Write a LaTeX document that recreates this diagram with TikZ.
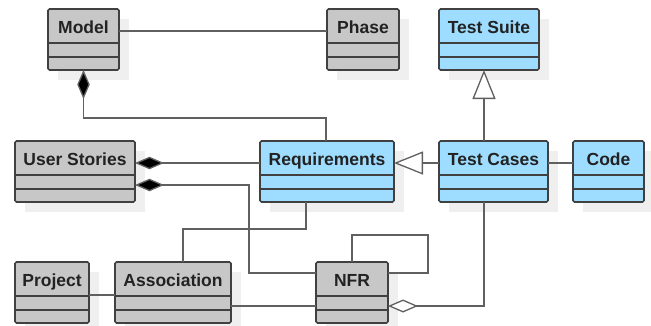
\documentclass[tikz,border=0pt]{standalone}
\usepackage{fontspec}
\setmainfont{Liberation Sans}
\usetikzlibrary{calc,arrows.meta}

\definecolor{clsgrey}{RGB}{199,199,199}
\definecolor{clsblue}{RGB}{158,221,255}
\definecolor{clsborder}{RGB}{64,64,64}
\definecolor{clsshadow}{RGB}{239,239,239}
\definecolor{linkgrey}{RGB}{96,96,96}
\definecolor{txtdark}{RGB}{34,34,34}

\tikzset{
  clsbox/.style={draw=clsborder, line width=1.6pt, rounded corners=1.5pt,
    minimum height=61pt, inner sep=0pt, outer sep=0pt},
  link/.style={draw=linkgrey, line width=1.3pt},
  clstitle/.style={font=\bfseries\fontsize{17.5}{20}\selectfont, text=txtdark, inner sep=0pt, anchor=base},
  composed/.style={{Diamond[length=29pt,width=12.5pt,fill=black]}-},
  aggregated/.style={-{Diamond[length=30pt,width=13pt,open,fill=white]}},
  inherits/.style={-{Triangle[length=29pt,width=23pt,open,fill=white]}},
}

% class box: name, centre x, centre y, width, fill, title
\newcommand{\umlclass}[6]{%
  \fill[clsshadow] (#2-#4/2+10, #3-30.5+10) rectangle (#2+#4/2+10, #3+30.5+10);
  \node[clsbox, fill=#5, minimum width=#4pt] (#1) at (#2,#3) {};
  \node[clstitle] at ($(#1.north)+(0,24)$) {#6};
  \draw[clsborder, line width=1.6pt] ($(#1.north west)+(0,34)$) -- ($(#1.north east)+(0,34)$);
  \draw[clsborder, line width=1.6pt] ($(#1.north west)+(0,48)$) -- ($(#1.north east)+(0,48)$);
}

\begin{document}
\begin{tikzpicture}[x=1pt,y=-1pt]
  \useasboundingbox[fill=white] (0,0) rectangle (651,325);

  \umlclass{model}{83.5}{39.5}{71}{clsgrey}{Model}
  \umlclass{phase}{363}{39.5}{72}{clsgrey}{Phase}
  \umlclass{tsuite}{489}{39.5}{100}{clsblue}{Test Suite}
  \umlclass{ustories}{75}{171.5}{120}{clsgrey}{User Stories}
  \umlclass{req}{327}{171.5}{134}{clsblue}{Requirements}
  \umlclass{tcases}{493.5}{171.5}{109}{clsblue}{Test Cases}
  \umlclass{code}{608.5}{171.5}{71}{clsblue}{Code}
  \umlclass{project}{52}{292.5}{74}{clsgrey}{Project}
  \umlclass{assoc}{173}{292.5}{116}{clsgrey}{Association}
  \umlclass{nfr}{352}{292.5}{72}{clsgrey}{NFR}

  % plain associations
  \draw[link] ($(model.north east)+(0,22)$) -- ($(phase.north west)+(0,22)$);
  \draw[link] ($(tcases.north east)+(0,22)$) -- ($(code.north west)+(0,22)$);
  \draw[link] ($(project.north east)+(0,33)$) -- ($(assoc.north west)+(0,33)$);
  \draw[link] ($(assoc.north east)+(0,44)$) -- ($(nfr.north west)+(0,44)$);
  \draw[link] ($(req.south)+(-21,0)$) |- ($(assoc.north)+(10,-33)$) -- ($(assoc.north)+(10,0)$);
  \draw[link] (nfr.north) -- ++(0,-27) -| ($(nfr.north east)+(40,11)$) -- ($(nfr.north east)+(0,11)$);

  % compositions
  \draw[link, composed] (model.south) |- ($(req.north)+(-1,-23)$) -- ($(req.north)+(-1,0)$);
  \draw[link, composed] ($(ustories.north east)+(0,22)$) -- ($(req.north west)+(0,22)$);
  \draw[link, composed] ($(ustories.north east)+(0,44)$) -| ($(nfr.north west)+(-67,11)$) -- ($(nfr.north west)+(0,11)$);

  % aggregation
  \draw[link, aggregated] ($(tcases.south west)+(45,0)$) |- ($(nfr.north east)+(0,44)$);

  % generalisations
  \draw[link, inherits] ($(tcases.north west)+(45,0)$) -- ($(tsuite.south west)+(45,0)$);
  \draw[link, inherits] ($(tcases.north west)+(0,22)$) -- ($(req.north east)+(0,22)$);
\end{tikzpicture}
\end{document}
